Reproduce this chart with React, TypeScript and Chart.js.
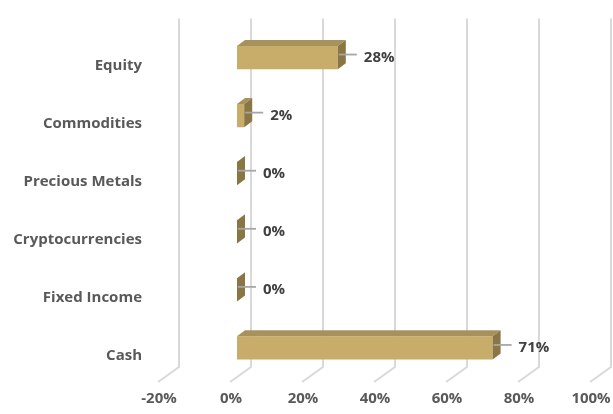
import React, { useEffect, useRef } from 'react';
import Chart from 'chart.js/auto';

const categories = ['Equity', 'Commodities', 'Precious Metals', 'Cryptocurrencies', 'Fixed Income', 'Cash'];
const weights = [28, 2, 0, 0, 0, 71];
const xTicks = [-20, 0, 20, 40, 60, 80, 100];

const FONT = '"Open Sans"';
const FSIZE = 15;
const DX = 8;
const DY = -6;

// fake 3d: back wall gridlines + floor diagonals
const wallPlugin = {
  id: 'wall3d',
  beforeDatasetsDraw(chart: any) {
    const { ctx, chartArea, scales } = chart;
    const xs = scales.x;
    ctx.save();
    ctx.strokeStyle = '#d9d9d9';
    ctx.lineWidth = 2;
    xTicks.forEach((v) => {
      const x = xs.getPixelForValue(v);
      ctx.beginPath();
      ctx.moveTo(x - 7, chartArea.bottom + 5);
      ctx.lineTo(x + 14, chartArea.bottom - 10);
      ctx.lineTo(x + 14, chartArea.top - 10);
      ctx.stroke();
    });
    ctx.restore();
  },
};

const barFacesPlugin = {
  id: 'barFaces',
  afterDatasetsDraw(chart: any) {
    const { ctx } = chart;
    const meta = chart.getDatasetMeta(0);
    ctx.save();
    meta.data.forEach((bar: any, i: number) => {
      const { x, y, base, height } = bar.getProps(['x', 'y', 'base', 'height'], true);
      const t = y - height / 2;
      const b = y + height / 2;
      // top face
      if (x - base > 0.5) {
        ctx.fillStyle = '#a8925c';
        ctx.beginPath();
        ctx.moveTo(base, t);
        ctx.lineTo(base + DX, t + DY);
        ctx.lineTo(x + DX, t + DY);
        ctx.lineTo(x, t);
        ctx.closePath();
        ctx.fill();
      }
      // side face
      ctx.fillStyle = '#8a7644';
      ctx.beginPath();
      ctx.moveTo(x, t);
      ctx.lineTo(x + DX, t + DY);
      ctx.lineTo(x + DX, b + DY);
      ctx.lineTo(x, b);
      ctx.closePath();
      ctx.fill();

      // leader line + label
      const ly = y + DY / 2;
      ctx.strokeStyle = '#a6a6a6';
      ctx.lineWidth = 1.8;
      ctx.beginPath();
      ctx.moveTo(x + 1, ly);
      ctx.lineTo(x + 19, ly);
      ctx.stroke();
      ctx.fillStyle = '#404040';
      ctx.font = `bold ${FSIZE}px ${FONT}`;
      ctx.textAlign = 'left';
      ctx.textBaseline = 'middle';
      ctx.fillText(`${weights[i]}%`, x + 26, y);
    });
    ctx.restore();
  },
};

export default function App() {
  const canvasRef = useRef<HTMLCanvasElement | null>(null);

  useEffect(() => {
    if (!canvasRef.current) return;
    const chart = new Chart(canvasRef.current, {
      type: 'bar',
      data: {
        labels: categories,
        datasets: [{
          data: weights,
          backgroundColor: '#c8ad6a',
          borderWidth: 0,
          categoryPercentage: 1,
          barPercentage: 0.4,
        }],
      },
      options: {
        indexAxis: 'y',
        animation: false,
        responsive: true,
        maintainAspectRatio: false,
        layout: { padding: { top: 28.5, right: 16, left: 0, bottom: 0 } },
        plugins: { legend: { display: false }, tooltip: { enabled: false } },
        scales: {
          x: {
            min: -20,
            max: 100,
            afterBuildTicks: (scale: any) => {
              scale.ticks = xTicks.map((v) => ({ value: v }));
            },
            afterFit: (scale: any) => {
              scale.height = 37;
              scale.paddingLeft = 0;
              scale.paddingRight = 0;
            },
            grid: { display: false, drawTicks: false },
            border: { display: false },
            ticks: {
              padding: 13,
              labelOffset: -6,
              color: '#595959',
              font: { family: FONT, size: FSIZE, weight: 'bold' },
              callback: (v: any) => `${v}%`,
            },
          },
          y: {
            afterFit: (scale: any) => {
              scale.width = 165;
              scale.paddingTop = 0;
              scale.paddingBottom = 0;
            },
            grid: { display: false, drawTicks: false },
            border: { display: false },
            ticks: {
              padding: 23,
              labelOffset: 8,
              color: '#595959',
              font: { family: FONT, size: FSIZE, weight: 'bold' },
            },
          },
        },
      },
      plugins: [wallPlugin, barFacesPlugin],
    });
    return () => chart.destroy();
  }, []);

  return (
    <div style={{ position: 'absolute', left: 0, top: 0, width: 613, height: 414, background: '#fff' }}>
      <canvas ref={canvasRef}></canvas>
    </div>
  );
}
